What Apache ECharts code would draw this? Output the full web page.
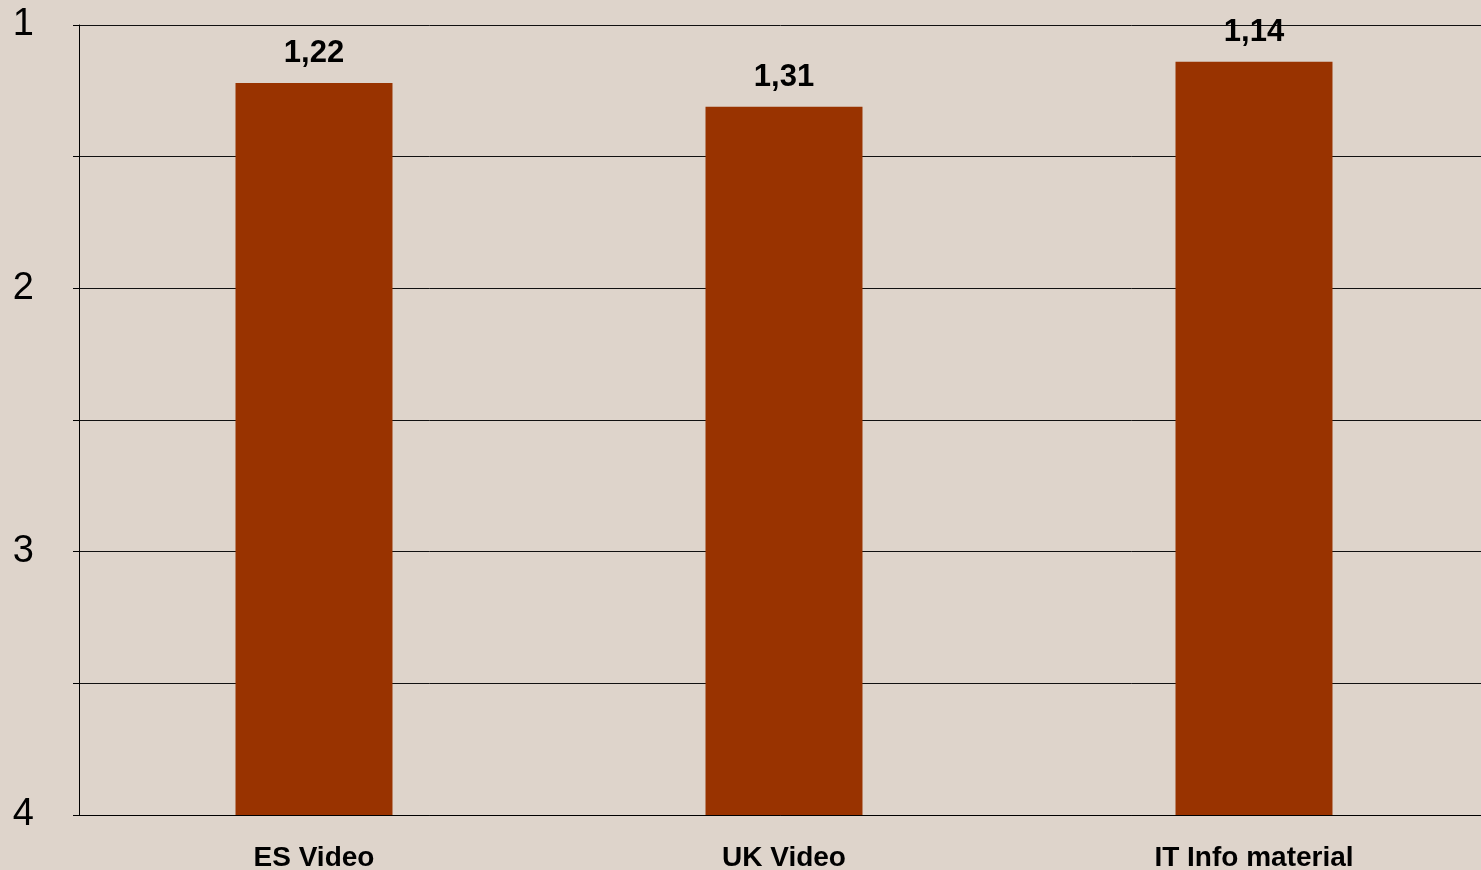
<!DOCTYPE html>
<html>
<head>
<meta charset="utf-8">
<script src="https://cdn.jsdelivr.net/npm/echarts@6/dist/echarts.min.js"></script>
<style>
  html, body { margin: 0; padding: 0; background: #DED4CB; }
  #chart { width: 1481px; height: 870px; }
</style>
</head>
<body>
<div id="chart"></div>
<script>
// 数据
const categories = ['ES Video', 'UK Video', 'IT Info material']
const scores = [1.22, 1.31, 1.14]
const scaleMin = 1
const scaleMax = 4

const font = '"Liberation Sans", Arial, sans-serif'

// 柱子从刻度底部(4)画到数值, 用堆叠实现
const remainder = scores.map(v => scaleMax - v)

const option = {
  backgroundColor: '#DED4CB',
  animation: false,
  grid: {
    left: 79,
    right: -8,
    top: 25,
    bottom: 55,
    outerBoundsMode: 'none'
  },
  xAxis: {
    type: 'category',
    data: categories,
    axisLine: { lineStyle: { color: '#000', width: 1 } },
    axisTick: { length: 8, lineStyle: { color: '#000' } },
    axisLabel: {
      color: '#000',
      fontFamily: font,
      fontWeight: 'bold',
      fontSize: 28,
      margin: 29
    }
  },
  yAxis: {
    type: 'value',
    inverse: true,
    min: scaleMin,
    max: scaleMax,
    interval: 0.5,
    axisLine: { show: true, lineStyle: { color: '#000', width: 1 } },
    axisTick: { show: true, length: 6, lineStyle: { color: '#000' } },
    axisLabel: {
      color: '#000',
      fontFamily: font,
      fontSize: 38,
      margin: 45,
      formatter: function (v) {
        return Number.isInteger(v) ? String(v) : ''
      }
    },
    splitLine: { show: true, lineStyle: { color: '#111', width: 1 } }
  },
  series: [
    {
      name: 'base',
      type: 'bar',
      stack: 'score',
      barWidth: '33.4%',
      itemStyle: { color: 'transparent' },
      data: scores
    },
    {
      name: 'score',
      type: 'bar',
      stack: 'score',
      barWidth: '33.4%',
      itemStyle: { color: '#993300' },
      label: {
        show: true,
        position: 'top',
        distance: 14,
        color: '#000',
        fontFamily: font,
        fontWeight: 'bold',
        fontSize: 31,
        formatter: function (params) {
          return scores[params.dataIndex].toFixed(2).replace('.', ',')
        }
      },
      data: remainder
    }
  ]
}

const myChart = echarts.init(document.getElementById('chart'))
option && myChart.setOption(option)
</script>
</body>
</html>
